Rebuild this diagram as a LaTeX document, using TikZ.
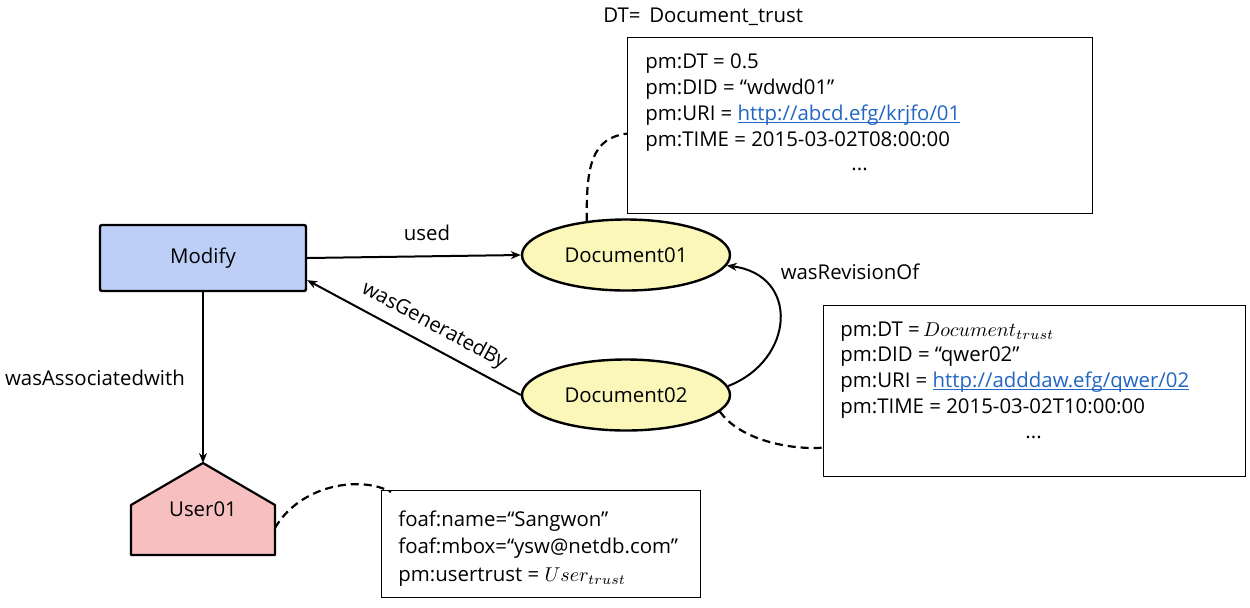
\documentclass[tikz,border=0pt]{standalone}
\usepackage{fontspec}
\setmainfont{Open Sans}
\usetikzlibrary{shapes.geometric,arrows.meta,positioning}
\definecolor{modblue}{HTML}{BDCFF7}
\definecolor{docyellow}{HTML}{FAF7B8}
\definecolor{userpink}{HTML}{F7BFBF}
\definecolor{linkblue}{HTML}{2266C4}
\newsavebox{\linkbox}
\newcommand{\weblink}[1]{\textcolor{linkblue}{\sbox{\linkbox}{#1}\rlap{\rule[-1.6pt]{\wd\linkbox}{0.45pt}}\usebox{\linkbox}}}
\tikzset{
	rel/.style={-{Stealth[length=5pt,width=4pt]}, line width=1pt},
	note/.style={line width=1.1pt, dash pattern=on 4pt off 2.5pt},
	attrbox/.style={draw, line width=0.5pt, anchor=north west, inner sep=0pt},
	ln/.style={anchor=base west, inner sep=0pt},
	doc/.style={ellipse, draw, fill=docyellow, line width=1.2pt, minimum width=104pt, minimum height=35.5pt, inner sep=0pt}
}
\begin{document}
\begin{tikzpicture}[x=0.5pt,y=-0.5pt,font=\fontsize{10.2}{12}\selectfont]
		\useasboundingbox (0,0) rectangle (1250,607);
		\node[draw, fill=modblue, line width=1.2pt, rounded corners=1pt, minimum width=103pt, minimum height=33pt] (modify) at (203,258) {Modify};
		\node[doc] (doc1) at (626,255) {Document01};
		\node[doc] (doc2) at (626,395) {Document02};
		\draw[fill=userpink, line width=1.1pt, line join=round] (131,555)--(131,505)--(203,463)--(275,505)--(275,555)--cycle;
		\coordinate (usertop) at (203,463);
		\coordinate (userside) at (275,528);
		\node (user) at (203,509) {User01};
		\node[attrbox, minimum width=232.5pt, minimum height=88pt] (attr1) at (627,37) {};
		\node[attrbox, minimum width=211pt, minimum height=85.5pt] (attr2) at (823,305) {};
		\node[attrbox, minimum width=159.5pt, minimum height=53.5pt] (attr3) at (381,490) {};
		\node[ln] (dt) at (603,22) {DT=\, Document\_trust};
		\node[ln] (a1) at (645,68) {pm:DT = 0.5};
		\node[ln] (a2) at (645,94) {pm:DID = “wdwd01”};
		\node[ln] (a3) at (645,120) {pm:URI = \weblink{http://abcd.efg/krjfo/01}};
		\node[ln] (a4) at (645,146) {pm:TIME = 2015-03-02T08:00:00};
		\node[ln] (a5) at (851,170) {...};
		\node[ln] (b1) at (840,336) {pm:DT =\,$Document_{trust}$};
		\node[ln] (b2) at (840,361) {pm:DID = “qwer02”};
		\node[ln] (b3) at (840,387) {pm:URI = \weblink{http://adddaw.efg/qwer/02}};
		\node[ln] (b4) at (840,413) {pm:TIME = 2015-03-02T10:00:00};
		\node[ln] (b5) at (1025,438) {...};
		\node[ln] (c1) at (398,526) {foaf:name=“Sangwon”};
		\node[ln] (c2) at (398,553) {foaf:mbox=“ysw@netdb.com”};
		\node[ln] (c3) at (398,581) {pm:usertrust = $User_{trust}$};
		\draw[rel] (modify.east) -- (doc1.west);
		\node (used) at (427,233) {used};
		\draw[rel] (doc2.west) -- node[sloped, above=1pt, pos=0.45] {wasGeneratedBy} (modify.-12.6);
		\draw[rel] (modify.south) -- (usertop);
		\node (assoc) at (95,378) {wasAssociatedwith};
		\draw[rel] (doc2.5) .. controls (795,360) and (800,275) .. (doc1.-6);
		\node (rev) at (850,272) {wasRevisionOf};
		\draw[note] (doc1.139) .. controls (586,165) and (592,138) .. (attr1.182.5);
		\draw[note] (doc2.-10) .. controls (740,440) and (790,450) .. (attr2.195);
		\draw[note] (userside) .. controls (300,485) and (360,475) .. (391,492);
\end{tikzpicture}
\end{document}
